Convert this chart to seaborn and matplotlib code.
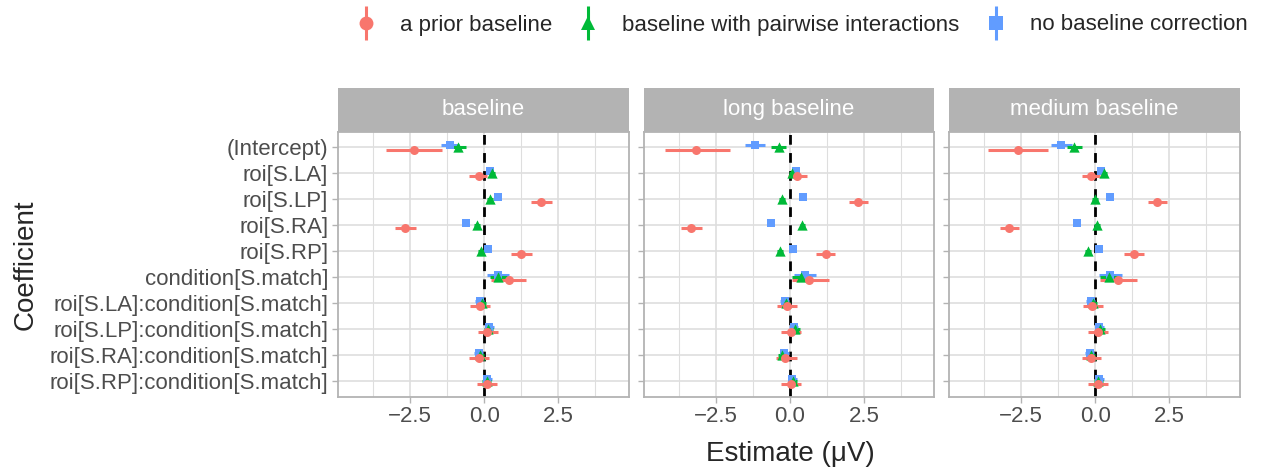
import numpy as np
import pandas as pd
import matplotlib
matplotlib.use("Agg")
import matplotlib.pyplot as plt
from matplotlib.lines import Line2D
from matplotlib.patches import Rectangle
from matplotlib.legend_handler import HandlerTuple
import seaborn as sns

# coefficient names, top to bottom
terms = ['(Intercept)', 'roi[S.LA]', 'roi[S.LP]', 'roi[S.RA]', 'roi[S.RP]',
         'condition[S.match]', 'roi[S.LA]:condition[S.match]',
         'roi[S.LP]:condition[S.match]', 'roi[S.RA]:condition[S.match]',
         'roi[S.RP]:condition[S.match]']
models = ['baseline', 'long baseline', 'medium baseline']
methods = ['a prior baseline', 'baseline with pairwise interactions', 'no baseline correction']

# --- baseline panel ---
prior_base_est = [-2.36, -0.17, 1.91, -2.68, 1.25, 0.82, -0.15, 0.11, -0.18, 0.08]
prior_base_lo = [-3.32, -0.51, 1.58, -3.01, 0.90, 0.23, -0.47, -0.20, -0.51, -0.23]
prior_base_hi = [-1.43, 0.11, 2.29, -2.31, 1.61, 1.41, 0.20, 0.45, 0.17, 0.42]
pair_base_est = [-0.90, 0.27, 0.20, -0.23, -0.11, 0.48, -0.09, 0.14, -0.15, 0.09]
pair_base_lo = [-1.12, 0.17, 0.10, -0.33, -0.21, 0.18, -0.24, -0.01, -0.30, -0.06]
pair_base_hi = [-0.62, 0.37, 0.30, -0.13, -0.01, 0.78, 0.06, 0.29, 0.00, 0.24]
none_base_est = [-1.15, 0.18, 0.48, -0.63, 0.14, 0.45, -0.15, 0.17, -0.18, 0.11]
none_base_lo = [-1.47, 0.08, 0.38, -0.73, 0.04, 0.09, -0.30, 0.02, -0.33, -0.04]
none_base_hi = [-0.85, 0.28, 0.58, -0.53, 0.24, 0.83, 0.00, 0.32, -0.03, 0.26]

# --- long baseline panel ---
prior_long_est = [-3.15, 0.24, 2.31, -3.32, 1.22, 0.65, -0.09, 0.03, -0.15, 0.03]
prior_long_lo = [-4.22, -0.06, 1.99, -3.66, 0.88, 0.06, -0.43, -0.28, -0.47, -0.28]
prior_long_hi = [-2.03, 0.59, 2.65, -2.96, 1.54, 1.32, 0.25, 0.39, 0.23, 0.39]
pair_long_est = [-0.37, 0.07, -0.26, 0.43, -0.32, 0.39, -0.14, 0.19, -0.25, 0.11]
pair_long_lo = [-0.62, -0.03, -0.36, 0.33, -0.42, 0.09, -0.29, 0.04, -0.40, -0.04]
pair_long_hi = [-0.12, 0.17, -0.16, 0.53, -0.22, 0.69, 0.01, 0.34, -0.10, 0.26]
none_long_est = [-1.17, 0.20, 0.45, -0.64, 0.12, 0.51, -0.17, 0.14, -0.19, 0.09]
none_long_lo = [-1.50, 0.10, 0.35, -0.74, 0.02, 0.13, -0.32, -0.01, -0.34, -0.06]
none_long_hi = [-0.84, 0.30, 0.55, -0.54, 0.22, 0.89, -0.02, 0.29, -0.04, 0.24]

# --- medium baseline panel ---
prior_med_est = [-2.62, -0.15, 2.08, -2.91, 1.30, 0.75, -0.11, 0.08, -0.15, 0.08]
prior_med_lo = [-3.60, -0.45, 1.77, -3.22, 0.98, 0.16, -0.43, -0.24, -0.46, -0.24]
prior_med_hi = [-1.61, 0.17, 2.42, -2.57, 1.63, 1.41, 0.25, 0.42, 0.19, 0.42]
pair_med_est = [-0.71, 0.28, 0.00, 0.05, -0.23, 0.47, -0.09, 0.17, -0.15, 0.10]
pair_med_lo = [-0.96, 0.18, -0.10, -0.05, -0.33, 0.17, -0.24, 0.02, -0.30, -0.05]
pair_med_hi = [-0.44, 0.38, 0.10, 0.15, -0.13, 0.77, 0.06, 0.32, 0.00, 0.25]
none_med_est = [-1.14, 0.19, 0.50, -0.63, 0.11, 0.51, -0.15, 0.14, -0.18, 0.14]
none_med_lo = [-1.48, 0.09, 0.40, -0.73, 0.01, 0.14, -0.30, -0.01, -0.33, -0.01]
none_med_hi = [-0.80, 0.29, 0.60, -0.53, 0.21, 0.89, 0.00, 0.29, -0.03, 0.29]

series = [
    ('baseline', methods[0], prior_base_est, prior_base_lo, prior_base_hi),
    ('baseline', methods[1], pair_base_est, pair_base_lo, pair_base_hi),
    ('baseline', methods[2], none_base_est, none_base_lo, none_base_hi),
    ('long baseline', methods[0], prior_long_est, prior_long_lo, prior_long_hi),
    ('long baseline', methods[1], pair_long_est, pair_long_lo, pair_long_hi),
    ('long baseline', methods[2], none_long_est, none_long_lo, none_long_hi),
    ('medium baseline', methods[0], prior_med_est, prior_med_lo, prior_med_hi),
    ('medium baseline', methods[1], pair_med_est, pair_med_lo, pair_med_hi),
    ('medium baseline', methods[2], none_med_est, none_med_lo, none_med_hi),
]
frames = []
for model, method, est, lo, hi in series:
    frames.append(pd.DataFrame({'model': model, 'method': method, 'term': terms,
                                'estimate': est, 'lo': lo, 'hi': hi}))
df = pd.concat(frames, ignore_index=True)

palette = dict(zip(methods, ['#F8766D', '#00BA38', '#619CFF']))
markers = dict(zip(methods, ['o', '^', 's']))
msize = dict(zip(methods, [42, 55, 40]))
# dodge: first group lowest in the flipped layout
dodge = dict(zip(methods, [0.1, 0.0, -0.1]))
df['ypos'] = df['term'].map({t: i for i, t in enumerate(terms)}) + df['method'].map(dodge)

sns.set_theme(style='white')
plt.rcParams['font.family'] = ['Liberation Sans', 'DejaVu Sans']

fig, axes = plt.subplots(1, 3, figsize=(12.63, 4.67), dpi=100, sharex=True, sharey=True)
fig.subplots_adjust(left=0.2676, right=0.9818, top=0.718, bottom=0.1505, wspace=0.05)

grey_grid = '#DEDEDE'
for ax, model in zip(axes, models):
    sub = df[df['model'] == model]
    ax.set_xlim(-4.93, 4.88)
    ax.set_ylim(9.6, -0.6)
    ax.set_xticks([-2.5, 0, 2.5])
    ax.set_xticks([-3.75, -1.25, 1.25, 3.75], minor=True)
    ax.set_yticks(range(len(terms)))
    ax.set_yticklabels(terms)
    ax.grid(which='major', color=grey_grid, lw=1.2)
    ax.grid(which='minor', axis='x', color=grey_grid, lw=0.8)
    ax.set_axisbelow(True)
    ax.axvline(0, color='black', lw=2, ls=(0, (3.5, 3)), zorder=1.5)
    for method in methods[::-1]:
        m = sub[sub['method'] == method]
        ax.hlines(m['ypos'], m['lo'], m['hi'], color=palette[method], lw=2.2, zorder=2)
        sns.scatterplot(data=m, x='estimate', y='ypos', color=palette[method],
                        marker=markers[method], s=msize[method], linewidth=0,
                        ax=ax, zorder=3, legend=False)
    ax.set_xlabel('')
    ax.set_ylabel('')
    for sp in ax.spines.values():
        sp.set_color('#B3B3B3')
        sp.set_linewidth(1.3)
    ax.tick_params(which='major', length=4, width=1, color='#B3B3B3',
                   labelsize=16, labelcolor='#4D4D4D', pad=3, left=True, bottom=True)
    ax.tick_params(which='minor', length=0)
    # facet strip
    ax.add_patch(Rectangle((0, 1.0), 1, 0.166, transform=ax.transAxes,
                           facecolor='#B3B3B3', edgecolor='none', clip_on=False))
    ax.text(0.5, 1.083, model, transform=ax.transAxes, ha='center', va='center',
            color='white', fontsize=16)

fig.text(0.6255, 0.028, 'Estimate (μV)', ha='center', va='center', fontsize=20)
fig.text(0.02, 0.434, 'Coefficient', ha='center', va='center', rotation=90, fontsize=20)

handles = []
for method in methods:
    bar = Line2D([], [], marker='|', markersize=24, markeredgewidth=2.2,
                 color=palette[method], linestyle='None')
    pt = Line2D([], [], marker=markers[method], markersize=10, color=palette[method],
                markeredgewidth=0, linestyle='None')
    handles.append((bar, pt))
fig.legend(handles, methods, handler_map={tuple: HandlerTuple(ndivide=1, pad=0)},
           loc='center', bbox_to_anchor=(0.6335, 1 - 25 / 467), ncol=3, frameon=False,
           fontsize=16, handlelength=1.2, handletextpad=0.93, columnspacing=1.02)

fig.savefig('out.png', dpi=100)
